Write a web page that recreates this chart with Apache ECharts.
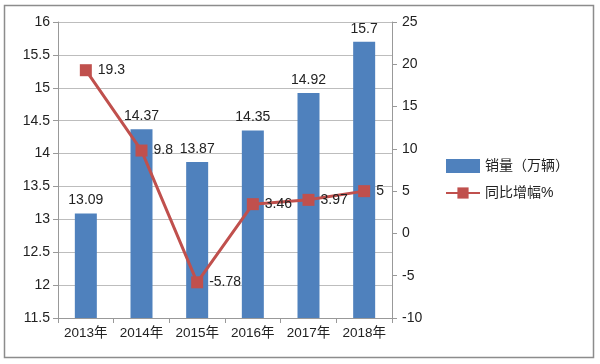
<!DOCTYPE html>
<html><head><meta charset="utf-8">
<script src="https://cdn.jsdelivr.net/npm/echarts@6/dist/echarts.min.js"></script>
<style>html,body{margin:0;padding:0;background:#fff}#c{width:600px;height:364px}</style>
</head><body><div id="c"></div>
<script>
const categories = ['2013年','2014年','2015年','2016年','2017年','2018年'];
const salesValues = [13.09,14.37,13.87,14.35,14.92,15.7];
const growthValues = [19.3,9.8,-5.78,3.46,3.97,5];
const seriesNames = ['销量（万辆）','同比增幅%'];

const FONT = "'Liberation Sans','Noto Sans CJK SC',sans-serif";
const chart = echarts.init(document.getElementById('c'));
chart.setOption({
  animation:false,
  textStyle:{fontFamily:FONT},
  graphic:[{type:'rect',shape:{x:4.5,y:5.5,width:589,height:352},style:{fill:'none',stroke:'#8c8c8c',lineWidth:1.5}}],
  grid:{left:58,right:208,top:22,bottom:46},
  legend:{
    orient:'vertical',left:440,top:154,itemGap:13,itemWidth:34,itemHeight:14,
    textStyle:{fontSize:14,color:'#222',fontFamily:FONT},
    data:[{name:seriesNames[0],icon:'rect'},{name:seriesNames[1]}]
  },
  xAxis:{type:'category',data:categories,
    axisLine:{onZero:false,lineStyle:{color:'#999'}},
    axisTick:{show:true,length:5,lineStyle:{color:'#999'}},
    axisLabel:{interval:0,fontSize:13.5,color:'#222',margin:9,fontFamily:FONT}},
  yAxis:[
    {type:'value',min:11.5,max:16,interval:0.5,
     axisLine:{show:true,lineStyle:{color:'#999'}},
     axisTick:{show:true,length:5,lineStyle:{color:'#999'}},
     splitLine:{lineStyle:{color:'#bdbdbd'}},
     axisLabel:{fontSize:14,color:'#222',margin:8,fontFamily:FONT}},
    {type:'value',min:-10,max:25,interval:5,position:'right',
     axisLine:{show:true,lineStyle:{color:'#999'}},
     axisTick:{show:true,length:5,lineStyle:{color:'#999'}},
     splitLine:{show:false},
     axisLabel:{fontSize:14,color:'#222',margin:10,fontFamily:FONT}}
  ],
  series:[
    {name:seriesNames[0],type:'bar',data:salesValues,barWidth:22,yAxisIndex:0,
     itemStyle:{color:'#4F81BD'},
     label:{show:true,position:'top',fontSize:14,color:'#222',distance:6,fontFamily:FONT}},
    {name:seriesNames[1],type:'line',data:growthValues,yAxisIndex:1,
     symbol:'rect',symbolSize:12,
     lineStyle:{color:'#C0504D',width:3},itemStyle:{color:'#C0504D'},
     label:{show:true,position:'right',fontSize:14,color:'#222',distance:6,fontFamily:FONT}}
  ]
});
</script></body></html>
